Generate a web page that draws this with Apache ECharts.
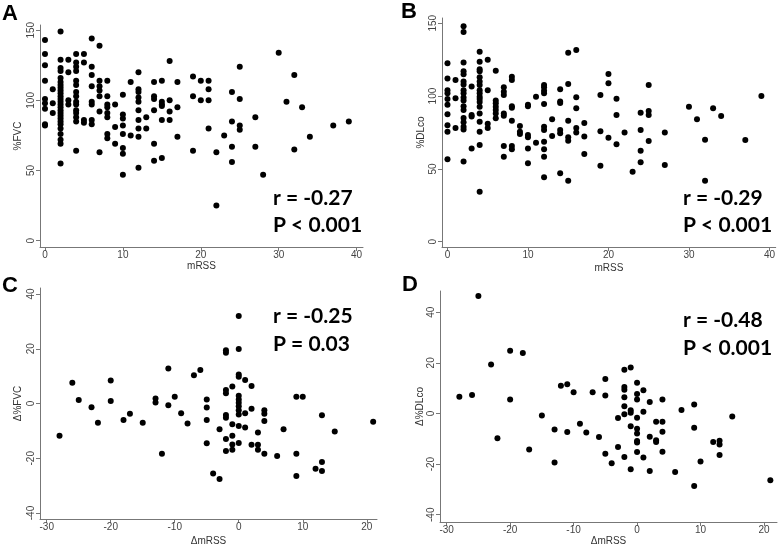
<!DOCTYPE html>
<html><head><meta charset="utf-8">
<script src="https://cdn.jsdelivr.net/npm/echarts@6/dist/echarts.min.js"></script>
<style>html,body{margin:0;padding:0;background:#fff}#c{width:778px;height:547px}</style>
</head><body><div id="c"></div>
<script>
// Panel A: mRSS vs %FVC  (columns: [mRSS, [%FVC values]])
const fvcCols = [
  [0,[143,133,125,114,101,98,94,83,82]],
  [1,[108,98,91]],
  [2,[149,129,123,121,116,113,111,109,107,105,103,101,99,97,95,93,91,89,87,85,83,80,76,72,69,55]],
  [3,[129,120,100,97]],
  [4,[133,127,124,121,114,111,106,103,99,97,93,91,88,85,64]],
  [5,[133,127,86,84]],
  [6,[144,124,118,110,99,97,86,83]],
  [7,[139,114,110,107,103,92,63]],
  [8,[114,103,97,95,91,88,76,73]],
  [9,[97,81,69]],
  [10,[104,90,87,82,76,66,62,47]],
  [11,[113,75]],
  [12,[120,108,106,102,99,93,86,80,74,52]],
  [13,[88,80]],
  [14,[113,103,101,93,69,57]],
  [15,[114,99,97,96,86,59]],
  [16,[128,100,92,86]],
  [17,[113,95,74]],
  [19,[117,103,64]],
  [20,[114,100]],
  [21,[114,108,100,80]],
  [22,[63,25]],
  [23,[75]],
  [24,[106,85,67,56]],
  [25,[124,101,82,79]],
  [27,[88,67]],
  [28,[47]],
  [30,[134]],
  [31,[99]],
  [32,[118,65]],
  [33,[95]],
  [34,[74]],
  [37,[82]],
  [39,[85]]
];
// Panel B: mRSS vs %DLco
const dlcoCols = [
  [0,[122.5,112,104,102,98,94,87.5,80,75.5,56.6]],
  [1,[111,98.5,78]],
  [2,[148,144,123,117,115,110,108,104,102,99,97,93,90.5,85,82,79,77,55]],
  [3,[106.5,87,86,64]],
  [4,[130.5,123.6,118.4,117,113,110,107.6,104,102,99.6,98,96,92.7,88,82.4,75.5,66.4,34.3]],
  [5,[125,104,81,78]],
  [6,[117.4,97,95,92.7,90.5,88,84.7]],
  [7,[106,103,100.7,88,86.4,65.7,58.4]],
  [8,[113.3,111,93,92,83,65.7,63.5]],
  [9,[79.5,75.5,74]],
  [10,[94,93,73.3,71.7,64,53.8]],
  [11,[99.6,68]],
  [12,[107.6,106,103.7,102,94.6,79,76.7,68.7,63.5,58.4,44.2]],
  [13,[84,72.6]],
  [14,[104.7,96.2,95.2,76.7,74.4,47]],
  [15,[129.8,108.3,83,71.7,69.4,41.9]],
  [16,[131.7,99.2,91.6,78,74.9]],
  [17,[81.5,72.3,60.2]],
  [19,[100.8,75.8,52.2]],
  [20,[115.2,108.8,71.3]],
  [21,[98.2,87,66.9]],
  [22,[74.9]],
  [23,[48.1]],
  [24,[88.6,76.7,62.5,54.5]],
  [25,[107.6,89.8,87,69.2]],
  [27,[74.9,52.7]],
  [30,[92.7]],
  [31,[84.1]],
  [32,[70,41.9]],
  [33,[91.6]],
  [34,[86.3]],
  [37,[69.8]],
  [39,[100.1]]
];
// Panel C: ΔmRSS vs Δ%FVC
const dFvcCols = [
  [-28,[-11.8]],[-26,[7.6]],[-25,[1.3]],[-23,[-1.4]],[-22,[-7]],[-20,[8.4,0.9]],
  [-18,[-6]],[-17,[-3.7]],[-15,[-7]],[-13,[1.8,0.4]],[-12,[-18.4]],[-11,[12.8,-0.6]],
  [-10,[2.5]],[-9,[-3.6]],[-8,[-7.3]],[-7,[10.3]],[-6,[12.2]],[-5,[1.5,-1.5,-6,-14.5]],
  [-4,[-25.6]],[-3,[-9.4,-27.6]],[-2,[19.5,18.5,4.9,3.7,-4.2,-5.2,-13,-17.4]],
  [-1,[6.2,-7.6,-11.8,-15,-16.9]],
  [0,[32,19.9,10.6,9.8,2.8,1.5,0.3,-1,-2.5,-4,-8.2,-14.4]],
  [1,[8.6,-3.6,-8.8]],[2,[6.4,-1.9,-15.1]],[3,[-10.6,-15.1,-16.9]],[4,[-2.5,-3.7,-6.4,-18.4]],
  [6,[-19.2]],[7,[-9.4]],[9,[2.5,-18.4,-26.5]],[10,[2.5]],[12,[-23.8]],[13,[-4.3,-21.4,-24.7]],
  [15,[-10.2]],[21,[-6.7]]
];
// Panel D: ΔmRSS vs Δ%DLco
const dDlcoCols = [
  [-28,[6.6]],[-26,[7.3]],[-25,[46.4]],[-23,[19.3]],[-22,[-9.8]],[-20,[24.8,5.5]],[-18,[23.9]],
  [-17,[-14.2]],[-15,[-0.8]],[-13,[-6.3,-19.4]],[-12,[11]],[-11,[11.5,-7.3]],[-10,[8.4]],
  [-9,[-4.1]],[-8,[-7.5]],[-7,[8.4]],[-6,[-9.3]],[-5,[13.6,7.1,-15.9]],[-4,[-19.7]],
  [-3,[-1.8,-13.2]],[-2,[17.3,10.5,9.4,6.4,2.9,-0.3,-17.2]],[-1,[18.2,1.3,0.3,-5,-22]],
  [0,[12.1,7.7,5.5,-1.7,-6,-7.9,-10.9,-11.5,-15.2]],[1,[9.2,0.7,-17.4]],[2,[4.5,-9.2,-22.7]],
  [3,[-3.3,-10.6,-11.3]],[4,[5.5,-3.3,-7.2,-15.1]],[6,[-23.1]],[7,[1.4]],[9,[3.5,-5.6,-28.6]],
  [10,[-19]],[12,[-11.3]],[13,[-10.8,-12.3,-16.4]],[15,[-1.2]],[21,[-26.4]]
];
const mrssTicks = [0,10,20,30,40];
const pctTicks = [0,50,100,150];
const deltaXTicks = [-30,-20,-10,0,10,20];
const deltaYTicks = [-40,-20,0,20,40];
const panelLetters = ['A','B','C','D'];
const yNames = ['%FVC','%DLco','\u0394%FVC','\u0394%DLco'];
const xNames = ['mRSS','mRSS','\u0394mRSS','\u0394mRSS'];
const statR = ['r = -0.27','r = -0.29','r = -0.25','r = -0.48'];
const statP = ['P < 0.001','P < 0.001','P = 0.03','P < 0.001'];

function flat(cols){const out=[];cols.forEach(c=>c[1].forEach(v=>out.push([c[0],v])));return out;}

const grids = [
  {left:40, top:25, width:323, height:222},
  {left:442, top:18, width:335, height:229},
  {left:40, top:288, width:337, height:233},
  {left:440, top:291, width:337, height:232}
];
const xr = [[-0.64,40.82],[-0.68,40.78],[-31.05,21.6],[-31.05,22.05]];
const yr = [[-4.5,153.7],[-3.64,153.6],[-42.2,42.2],[-42.87,48.38]];
const xt = [mrssTicks,mrssTicks,deltaXTicks,deltaXTicks];
const yt = [pctTicks,pctTicks,deltaYTicks,deltaYTicks];
const xGap = [14,16,17,14];
const yGap = [17,16,17,15];
const datasets = [flat(fvcCols),flat(dlcoCols),flat(dFvcCols),flat(dDlcoCols)];

const axisLine = {show:true,lineStyle:{color:'#777',width:1}};
const lblFont = {fontFamily:'Liberation Sans',fontSize:10,color:'#444'};

const option = {
  animation:false,
  backgroundColor:'#fff',
  grid: grids,
  xAxis: grids.map((g,i)=>({
    type:'value', gridIndex:i, min:xr[i][0], max:xr[i][1],
    axisLine:{...axisLine,onZero:false},
    axisTick:{show:true,customValues:xt[i],length:4,lineStyle:{color:'#777'}},
    axisLabel:{...lblFont,customValues:xt[i],margin:3},
    splitLine:{show:false},
    name:xNames[i], nameLocation:'middle', nameGap:xGap[i],
    nameTextStyle:{fontFamily:'Liberation Sans',fontSize:10,color:'#333'}
  })),
  yAxis: grids.map((g,i)=>({
    type:'value', gridIndex:i, min:yr[i][0], max:yr[i][1],
    axisLine:{...axisLine,onZero:false},
    axisTick:{show:true,customValues:yt[i],length:4,lineStyle:{color:'#777'}},
    axisLabel:{...lblFont,customValues:yt[i],rotate:90,margin:4},
    splitLine:{show:false},
    name:yNames[i], nameLocation:'middle', nameGap:yGap[i], nameRotate:90,
    nameTextStyle:{fontFamily:'Liberation Sans',fontSize:10,color:'#333'}
  })),
  series: datasets.map((d,i)=>({
    type:'scatter', xAxisIndex:i, yAxisIndex:i, data:d,
    symbol:'circle', symbolSize:6, itemStyle:{color:'#000',opacity:1}, silent:true
  })),
  graphic: [
    ...panelLetters.map((t,i)=>({type:'text', x:[2,401,2,402][i], y:[3,1,275,274][i],
      style:{text:t, font:'bold 22px "Liberation Sans"', fill:'#000'}})),
    ...statR.map((t,i)=>({type:'text', x:[273,683,273,683][i], y:[198,198,316.7,320][i],
      style:{text:t, font:'bold 21px Lato', fill:'#000', verticalAlign:'middle', align:'left'}})),
    ...statP.map((t,i)=>({type:'text', x:[273,683,273,683][i], y:[225,225,344,348.3][i],
      style:{text:t, font:'bold 21px Lato', fill:'#000', verticalAlign:'middle', align:'left'}}))
  ]
};
const chart = echarts.init(document.getElementById('c'),null,{renderer:'canvas'});
chart.setOption(option);
</script></body></html>
